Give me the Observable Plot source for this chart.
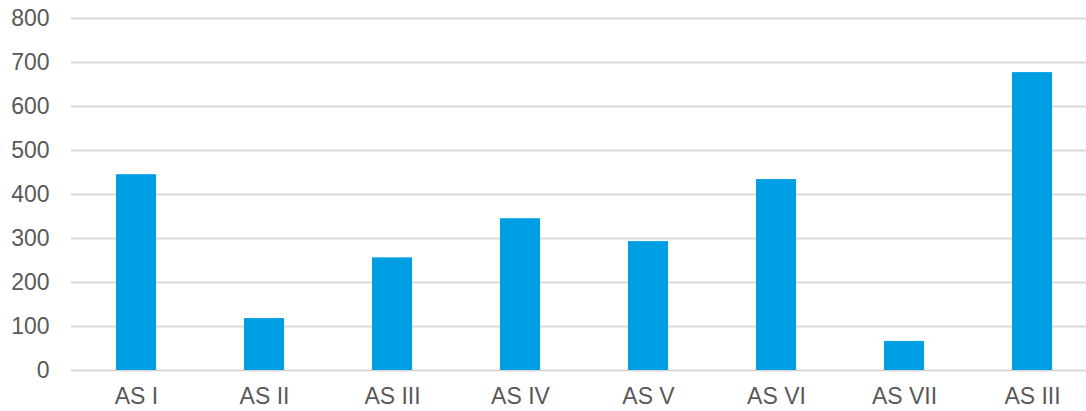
<!DOCTYPE html>
<html>
<head>
<meta charset="utf-8">
<script src="https://cdn.jsdelivr.net/npm/d3@7"></script>
<script src="https://cdn.jsdelivr.net/npm/@observablehq/plot@0.6"></script>
<style>
  html, body { margin: 0; padding: 0; background: #fff; }
  #chart svg { display: block; }
</style>
</head>
<body>
<div id="chart"></div>
<script>
const categories = ["AS I", "AS II", "AS III", "AS IV", "AS V", "AS VI", "AS VII", "AS III"];
const values = [445, 118, 256, 345, 293, 434, 66, 677];
const yTicks = [0, 100, 200, 300, 400, 500, 600, 700, 800];

const data = categories.map((c, i) => ({ idx: i, label: c, value: values[i] }));

const chart = Plot.plot({
  width: 1086,
  height: 411,
  marginLeft: 71,
  marginRight: 0,
  marginTop: 18,
  marginBottom: 41,
  style: { fontFamily: "'Liberation Sans', Arial, sans-serif", fontSize: "23px", color: "#595959", background: "#fff" },
  x: {
    domain: data.map(d => d.idx),
    range: [71, 1097],
    paddingInner: 0.688,
    paddingOuter: 0.344,
    tickFormat: i => categories[i],
    tickSize: 0,
    tickPadding: 17,
    label: null
  },
  y: {
    domain: [0, 800],
    ticks: yTicks,
    tickSize: 0,
    tickPadding: 22,
    label: null
  },
  marks: [
    Plot.ruleY(yTicks, { stroke: "#d9d9d9", strokeWidth: 2 }),
    Plot.barY(data, { x: "idx", y: "value", fill: "#009FE3" }),
    Plot.axisX({ tickSize: 0, tickPadding: 17, tickFormat: i => categories[i], fontSize: 23, fill: "#595959" }),
    Plot.axisY({ ticks: yTicks, tickSize: 0, tickPadding: 22, fontSize: 23, fill: "#595959", label: null })
  ]
});
document.getElementById("chart").appendChild(chart);
</script>
</body>
</html>
